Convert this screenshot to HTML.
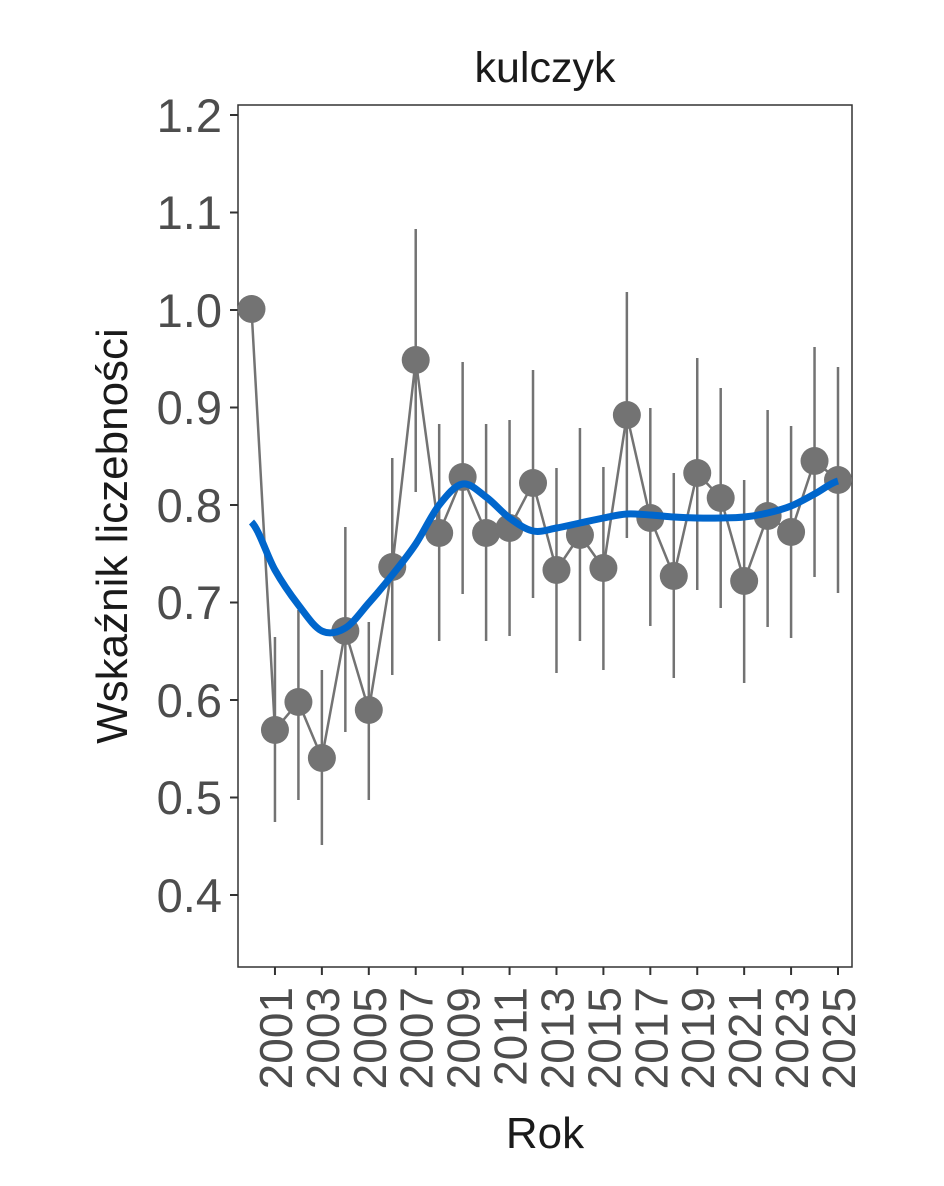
<!DOCTYPE html>
<html><head><meta charset="utf-8"><style>body{margin:0;background:#fff}</style></head><body>
<svg width="944" height="1181" xmlns="http://www.w3.org/2000/svg" font-family="Liberation Sans, Arial, sans-serif">
<rect width="944" height="1181" fill="#fff"/>
<text x="545" y="82" font-size="43" text-anchor="middle" fill="#1a1a1a">kulczyk</text>
<rect x="238" y="105" width="614" height="862" fill="none" stroke="#333" stroke-width="1.5"/>
<g stroke="#333" stroke-width="2">
<line x1="230" y1="115" x2="238" y2="115"/><line x1="230" y1="212.5" x2="238" y2="212.5"/><line x1="230" y1="310" x2="238" y2="310"/><line x1="230" y1="407.5" x2="238" y2="407.5"/><line x1="230" y1="505" x2="238" y2="505"/><line x1="230" y1="602.5" x2="238" y2="602.5"/><line x1="230" y1="700" x2="238" y2="700"/><line x1="230" y1="797.5" x2="238" y2="797.5"/><line x1="230" y1="895" x2="238" y2="895"/>
</g>
<g font-size="47" fill="#4d4d4d" text-anchor="end">
<text x="222" y="132">1.2</text><text x="222" y="229">1.1</text><text x="222" y="327">1.0</text><text x="222" y="424">0.9</text><text x="222" y="522">0.8</text><text x="222" y="619">0.7</text><text x="222" y="717">0.6</text><text x="222" y="814">0.5</text><text x="222" y="912">0.4</text>
</g>
<g id="xt" stroke="#333" stroke-width="2"></g>
<g id="xl" font-size="46" fill="#4d4d4d"></g>
<text x="545" y="1148" font-size="44" text-anchor="middle" fill="#1a1a1a">Rok</text>
<text transform="translate(127,536) rotate(-90)" font-size="44" text-anchor="middle" fill="#1a1a1a">Wskaźnik liczebności</text>
<g id="eb" stroke="#737373" stroke-width="2.5"></g>
<polyline id="ln" fill="none" stroke="#737373" stroke-width="2.5"/>
<g id="pt" fill="#737373"></g>
<path id="sm" fill="none" stroke="#0066cc" stroke-width="7" stroke-linecap="butt"/>
</svg>
<script>
var ns="http://www.w3.org/2000/svg";
function X(y){return 251.5+(y-2000)*23.46;}
var py=[309,730,702,758,631,710,567,360,533,477,533,528,483,570,535,568,415,518,576,473,498,581,516,532,461,480];
var eb=[null,[637,822],[610,800],[670,845],[527,732],[622,800],[458,675],[229,492],[424,641],[362,594],[424,641],[420,636],[370,598],[468,673],[428,641],[467,670],[292,538],[408,626],[473,678],[358,590],[388,608],[480,683],[410,627],[426,638],[347,577],[367,593]];
var sm=[522,570,605,631,628,603,575,544,505,484,497,518,531,528,523,518,514,515,517,518,518,517,513,506,494,481];
var xt=document.getElementById('xt'),xl=document.getElementById('xl');
for(var y=2001;y<=2025;y+=2){var x=X(y);var l=document.createElementNS(ns,'line');l.setAttribute('x1',x);l.setAttribute('x2',x);l.setAttribute('y1',967);l.setAttribute('y2',975);xt.appendChild(l);
var t=document.createElementNS(ns,'text');t.setAttribute('transform','translate('+(x+17)+',987) rotate(-90)');t.setAttribute('text-anchor','end');t.textContent=y;xl.appendChild(t);}
var g=document.getElementById('eb'),pt=document.getElementById('pt'),pts=[];
for(var i=0;i<26;i++){var x=X(2000+i);pts.push(x+','+py[i]);
if(eb[i]){var l=document.createElementNS(ns,'line');l.setAttribute('x1',x);l.setAttribute('x2',x);l.setAttribute('y1',eb[i][0]);l.setAttribute('y2',eb[i][1]);g.appendChild(l);}
var c=document.createElementNS(ns,'circle');c.setAttribute('cx',x);c.setAttribute('cy',py[i]);c.setAttribute('r',14);pt.appendChild(c);}
document.getElementById('ln').setAttribute('points',pts.join(' '));
var d='M'+X(2000)+','+sm[0];
for(var i=0;i<25;i++){var x0=X(2000+i-1),x1=X(2000+i),x2=X(2001+i),x3=X(2002+i);
var y0=sm[Math.max(i-1,0)],y1=sm[i],y2=sm[i+1],y3=sm[Math.min(i+2,25)];
d+=' C'+(x1+(x2-x0)/6)+','+(y1+(y2-y0)/6)+' '+(x2-(x3-x1)/6)+','+(y2-(y3-y1)/6)+' '+x2+','+y2;}
document.getElementById('sm').setAttribute('d',d);
</script>
</body></html>
